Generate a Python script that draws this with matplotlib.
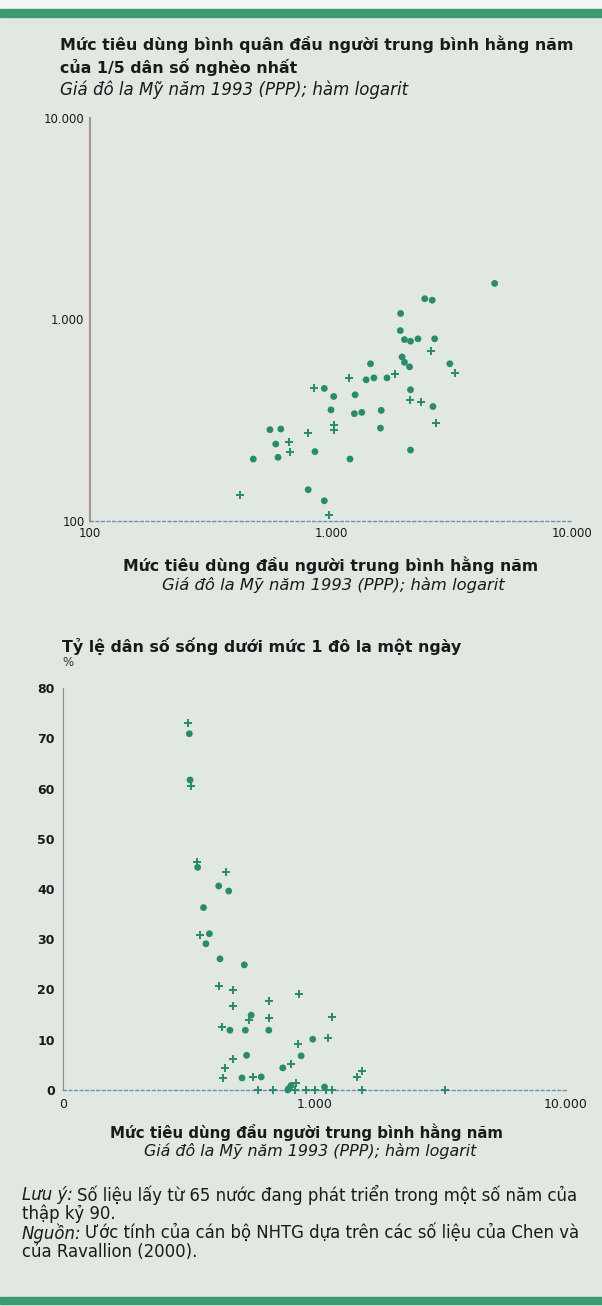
import matplotlib.pyplot as plt
from matplotlib.ticker import FixedLocator, NullLocator

plt.rcParams['font.family'] = ['DejaVu Sans']

# --- data: top chart (x = mean consumption, y = consumption of poorest fifth)
top_circle_x = [2449, 2630, 1945, 1939, 2018, 2138, 2296, 2692, 1972, 2018, 2118, 3112,
                1459, 1399, 1507, 1707, 938, 1026, 1259, 2138, 2649, 1000, 1250, 1342,
                1616, 1604, 558, 619, 590, 603, 858, 476, 1199, 2138, 804, 938, 4775]
top_circle_y = [1268, 1247, 1071, 881, 795, 780, 802, 802, 652, 613, 582, 603,
                603, 502, 513, 513, 455, 415, 423, 448, 370, 356, 341, 346,
                354, 289, 284, 286, 241, 207, 221, 203, 203, 225, 143, 126, 1510]
top_plus_x = [2610, 3285, 1186, 1848, 851, 2118, 2371, 2738, 1032, 1032, 804, 670, 676, 419, 977]
top_plus_y = [695, 543, 513, 538, 457, 400, 391, 306, 300, 284, 273, 248, 219, 135, 107]

# --- data: bottom chart (x = mean consumption, y = % below $1 a day)
bot_circle_x = [318, 320, 343, 416, 456, 362, 382, 370, 421, 526, 560, 461, 531, 658,
                984, 885, 537, 748, 515, 614, 807, 790, 1096, 783]
bot_circle_y = [70.9, 61.7, 44.3, 40.6, 39.6, 36.3, 31.1, 29.1, 26.1, 24.9, 14.9, 11.9, 11.9, 11.9,
                10.1, 6.8, 6.9, 4.4, 2.4, 2.6, 0.9, 0.3, 0.6, 0.0]
bot_plus_x = [313, 323, 340, 445, 351, 416, 473, 473, 658, 865, 551, 658, 429, 1178,
              1130, 857, 473, 442, 807, 432, 571, 1549, 1475, 845,
              594, 682, 839, 927, 1009, 1112, 1178, 1549, 3296]
bot_plus_y = [73.1, 60.4, 45.3, 43.3, 30.9, 20.6, 19.9, 16.8, 17.7, 19.1, 13.9, 14.4, 12.6, 14.6,
              10.4, 9.1, 6.1, 4.4, 5.1, 2.4, 2.6, 3.7, 2.6, 1.3,
              0, 0, 0, 0, 0, 0, 0, 0, 0]

log_ticks = [100, 1000, 10000]
top_xlabels = ['100', '1.000', '10.000']
top_ylabels = ['100', '1.000', '10.000']
bot_xlabels = ['0', '1.000', '10.000']
bot_yticks = [0, 10, 20, 30, 40, 50, 60, 70, 80]

W, H = 602, 1306
BG = '#e1e8e1'
GREEN = '#2a8a6c'
TXT = '#1a1a1a'

fig = plt.figure(figsize=(W / 100, H / 100), dpi=100, facecolor=BG)


def px_axes(x0, y0, x1, y1):
    # pixel box (left, top, right, bottom) -> figure fraction
    return fig.add_axes([x0 / W, 1 - y1 / H, (x1 - x0) / W, (y1 - y0) / H])


def ftext(x, y, s, **kw):
    kw.setdefault('color', TXT)
    return fig.text(x / W, 1 - y / H, s, va='center', **kw)


def note(x, y, head, rest, size=11.9):
    # italic lead-in followed by normal text on the same line
    t = ftext(x, y, head, fontsize=size, style='italic')
    r = fig.canvas.get_renderer()
    w = t.get_window_extent(renderer=r).width
    ftext(x + w + 4, y, rest, fontsize=size)


# green bands top and bottom
fig.patches.append(plt.Rectangle((0, 1 - 9 / H), 1, 9 / H, transform=fig.transFigure,
                                 color='#f4f6f4', zorder=0))
fig.patches.append(plt.Rectangle((0, 1 - 17 / H), 1, 8 / H, transform=fig.transFigure,
                                 color='#3d9a70', zorder=0))
fig.patches.append(plt.Rectangle((0, 2 / H), 1, 7 / H, transform=fig.transFigure,
                                 color='#3d9a70', zorder=0))

# ---------------- top chart
ax1 = px_axes(90, 118, 572, 521)
ax1.set_facecolor(BG)
ax1.set_xscale('log')
ax1.set_yscale('log')
ax1.set_xlim(100, 10000)
ax1.set_ylim(100, 10000)
ax1.scatter(top_circle_x, top_circle_y, s=24, color=GREEN, edgecolors='none', zorder=3)
ax1.scatter(top_plus_x, top_plus_y, s=30, marker='+', color=GREEN, linewidths=1.4, zorder=3)
ax1.xaxis.set_major_locator(FixedLocator(log_ticks))
ax1.yaxis.set_major_locator(FixedLocator(log_ticks))
ax1.xaxis.set_minor_locator(NullLocator())
ax1.yaxis.set_minor_locator(NullLocator())
ax1.set_xticklabels(top_xlabels, fontsize=8.5, color=TXT)
ax1.set_yticklabels(top_ylabels, fontsize=8.5, color=TXT)
ax1.tick_params(length=0, pad=4)
for s in ['top', 'right']:
    ax1.spines[s].set_visible(False)
ax1.spines['left'].set_color('#a89494')
ax1.spines['left'].set_linewidth(1.5)
ax1.spines['bottom'].set_color('#6f8fb0')
ax1.spines['bottom'].set_linestyle((0, (2, 2)))
ax1.spines['bottom'].set_linewidth(1)

ftext(60, 44, 'Mức tiêu dùng bình quân đầu người trung bình hằng năm', fontsize=11.4, fontweight='bold')
ftext(60, 67, 'của 1/5 dân số nghèo nhất', fontsize=11.4, fontweight='bold')
ftext(60, 90, 'Giá đô la Mỹ năm 1993 (PPP); hàm logarit', fontsize=12, style='italic')
ftext(331, 565, 'Mức tiêu dùng đầu người trung bình hằng năm', fontsize=11.3, fontweight='bold', ha='center')
ftext(333, 585, 'Giá đô la Mỹ năm 1993 (PPP); hàm logarit', fontsize=11.8, style='italic', ha='center')

# ---------------- bottom chart
ax2 = px_axes(63, 688, 566, 1090)
ax2.set_facecolor(BG)
ax2.set_xscale('log')
ax2.set_xlim(100, 10000)
ax2.set_ylim(0, 80)
ax2.scatter(bot_circle_x, bot_circle_y, s=24, color=GREEN, edgecolors='none', zorder=3, clip_on=False)
ax2.scatter(bot_plus_x, bot_plus_y, s=30, marker='+', color=GREEN, linewidths=1.4, zorder=3, clip_on=False)
ax2.xaxis.set_major_locator(FixedLocator(log_ticks))
ax2.xaxis.set_minor_locator(NullLocator())
ax2.set_xticklabels(bot_xlabels, fontsize=9, color=TXT)
ax2.set_yticks(bot_yticks)
ax2.set_yticklabels([str(v) for v in bot_yticks], fontsize=9, color=TXT, fontweight='bold')
ax2.tick_params(length=0, pad=6)
for s in ['top', 'right']:
    ax2.spines[s].set_visible(False)
ax2.spines['left'].set_color('#8a8a9a')
ax2.spines['left'].set_linewidth(0.8)
ax2.spines['bottom'].set_color('#6f8fb0')
ax2.spines['bottom'].set_linestyle((0, (2, 2)))
ax2.spines['bottom'].set_linewidth(1)

ftext(62, 646, 'Tỷ lệ dân số sống dưới mức 1 đô la một ngày', fontsize=11.4, fontweight='bold')
ftext(62, 663, '%', fontsize=8.5, color='#333333')
ftext(306, 1132, 'Mức tiêu dùng đầu người trung bình hằng năm', fontsize=10.8, fontweight='bold', ha='center')
ftext(310, 1151, 'Giá đô la Mỹ năm 1993 (PPP); hàm logarit', fontsize=11.4, style='italic', ha='center')

# notes
note(22, 1195, 'Lưu ý:', 'Số liệu lấy từ 65 nước đang phát triển trong một số năm của')
ftext(22, 1214, 'thập kỷ 90.', fontsize=11.9)
note(22, 1233, 'Nguồn:', 'Ước tính của cán bộ NHTG dựa trên các số liệu của Chen và')
ftext(22, 1252, 'của Ravallion (2000).', fontsize=11.9)

fig.savefig('out.png', dpi=100, facecolor=BG)
